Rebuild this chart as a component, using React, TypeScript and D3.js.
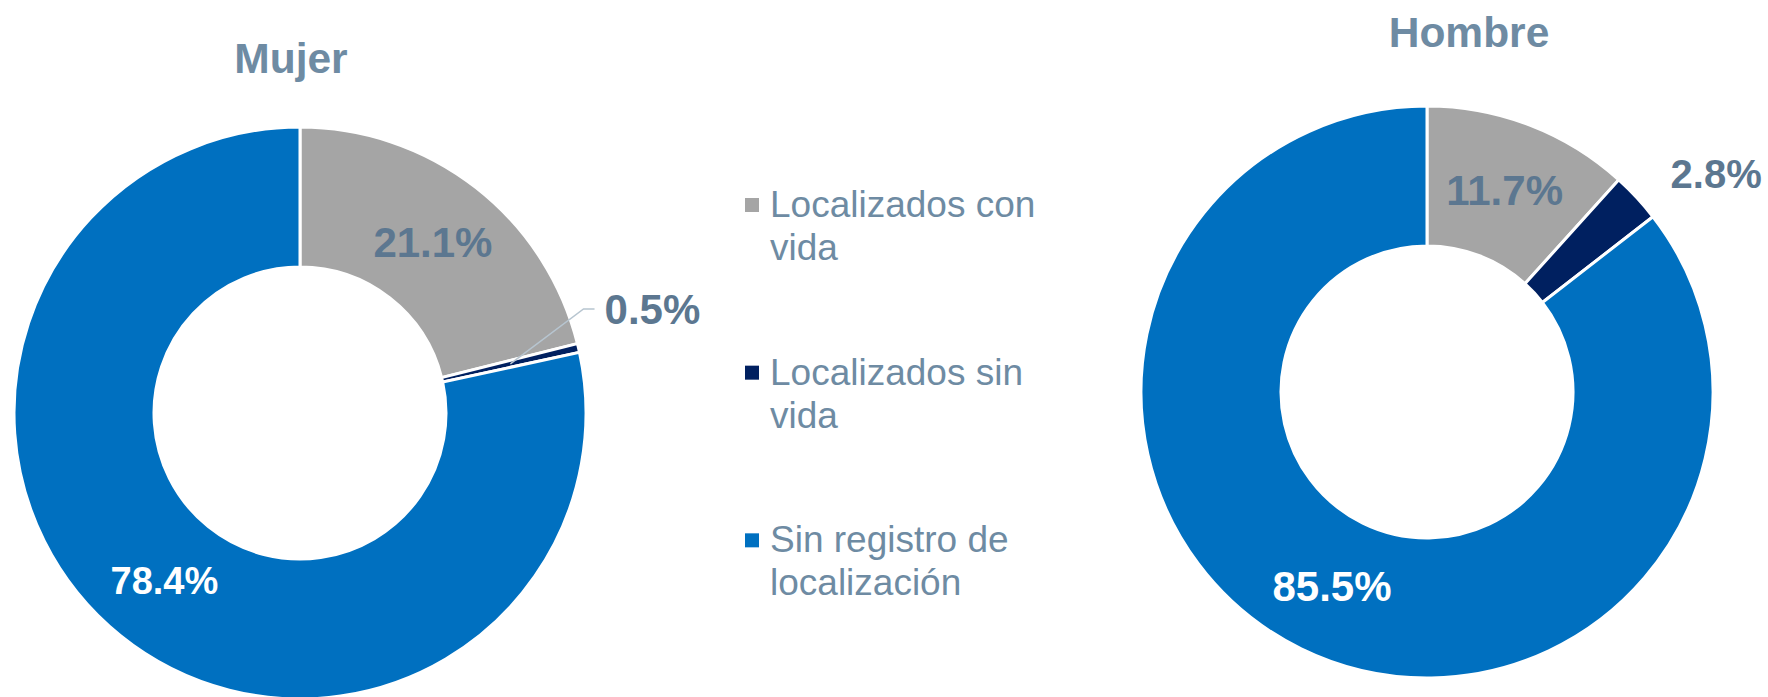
import React from 'react';
import * as d3 from 'd3';

const categories = ['Localizados con vida', 'Localizados sin vida', 'Sin registro de localización'];
const legendLines = [['Localizados con', 'vida'], ['Localizados sin', 'vida'], ['Sin registro de', 'localización']];
const colors = ['#A5A5A5', '#002060', '#0070C0'];
const mujerValues = [21.1, 0.5, 78.4];
const hombreValues = [11.7, 2.8, 85.5];

const W = 1768;
const H = 697;
const FONT = 'Liberation Sans, Arial, sans-serif';
const TITLE_COLOR = '#6E8BA3';
const LABEL_COLOR = '#5C7790';

interface DonutProps {
  title: string;
  values: number[];
  cx: number;
  cy: number;
  titleX: number;
  titleY: number;
  // how each label is placed: inside the ring, outside, or outside with a leader
  labelModes: string[];
  labelColors: string[];
  labelSizes: number[];
}

const outerR = 286;
const innerR = 146;

const Donut = ({ title, values, cx, cy, titleX, titleY, labelModes, labelColors, labelSizes }: DonutProps) => {
  const pie = d3.pie<number>().sort(null).value(d => d);
  const arcs = pie(values);
  const arc = d3.arc<d3.PieArcDatum<number>>().innerRadius(innerR).outerRadius(outerR);
  const polar = (a: number, r: number): [number, number] => [Math.sin(a) * r, -Math.cos(a) * r];

  return (
    <g>
      <text x={titleX} y={titleY} textAnchor="middle" fontFamily={FONT} fontWeight="bold"
        fontSize={42.5} fill={TITLE_COLOR}>{title}</text>
      <g transform={`translate(${cx},${cy})`}>
        {arcs.map((a, i) => (
          <path key={i} d={arc(a) || ''} fill={colors[i]} stroke="#fff" strokeWidth={3} />
        ))}
        {arcs.map((a, i) => {
          const mid = (a.startAngle + a.endAngle) / 2;
          const label = `${values[i].toFixed(1)}%`;
          const common = { fontFamily: FONT, fontWeight: 'bold', fontSize: labelSizes[i], fill: labelColors[i] };
          if (labelModes[i] === 'inside') {
            const [x, y] = arc.centroid(a);
            return (
              <text key={i} x={x} y={y} dy="0.35em" textAnchor="middle" {...common}>{label}</text>
            );
          }
          if (labelModes[i] === 'outside') {
            const [x, y] = polar(mid + Math.PI / 180, outerR + 41);
            return (
              <text key={i} x={x} y={y} dy="0.35em" textAnchor="start" {...common}>{label}</text>
            );
          }
          // leader line from ring centre to label
          const [sx, sy] = arc.centroid(a);
          const [ex, ey] = polar(mid - (7 * Math.PI) / 180, outerR + 16);
          const hx = ex + 11;
          return (
            <g key={i}>
              <polyline points={`${sx},${sy} ${ex},${ey} ${hx},${ey}`} fill="none"
                stroke="#B7C5D0" strokeWidth={1.5} />
              <text x={hx + 10} y={ey} dy="0.35em" textAnchor="start" {...common}>{label}</text>
            </g>
          );
        })}
      </g>
    </g>
  );
};

const Legend = () => {
  const rowY = d3.scaleBand<number>().domain(d3.range(categories.length)).range([175, 678]);
  return (
    <g>
      {categories.map((c, i) => {
        const y0 = (rowY(i) || 0) + 42;
        return (
          <g key={c}>
            <rect x={745} y={y0 - 19} width={14} height={14} fill={colors[i]} />
            <text fontFamily={FONT} fontSize={37} fill={TITLE_COLOR}>
              {legendLines[i].map((l, j) => (
                <tspan key={j} x={770} y={y0 + j * 43}>{l}</tspan>
              ))}
            </text>
          </g>
        );
      })}
    </g>
  );
};

export default function App() {
  return (
    <svg width={W} height={H} style={{ position: 'absolute', left: 0, top: 0, background: '#fff' }}>
      <Donut title="Mujer" values={mujerValues} cx={300} cy={413} titleX={291} titleY={73}
        labelModes={['inside', 'leader', 'inside']}
        labelColors={[LABEL_COLOR, LABEL_COLOR, '#fff']}
        labelSizes={[42, 42, 38]} />
      <Legend />
      <Donut title="Hombre" values={hombreValues} cx={1427} cy={392} titleX={1469} titleY={47}
        labelModes={['inside', 'outside', 'inside']}
        labelColors={[LABEL_COLOR, LABEL_COLOR, '#fff']}
        labelSizes={[42, 40, 42]} />
    </svg>
  );
}
